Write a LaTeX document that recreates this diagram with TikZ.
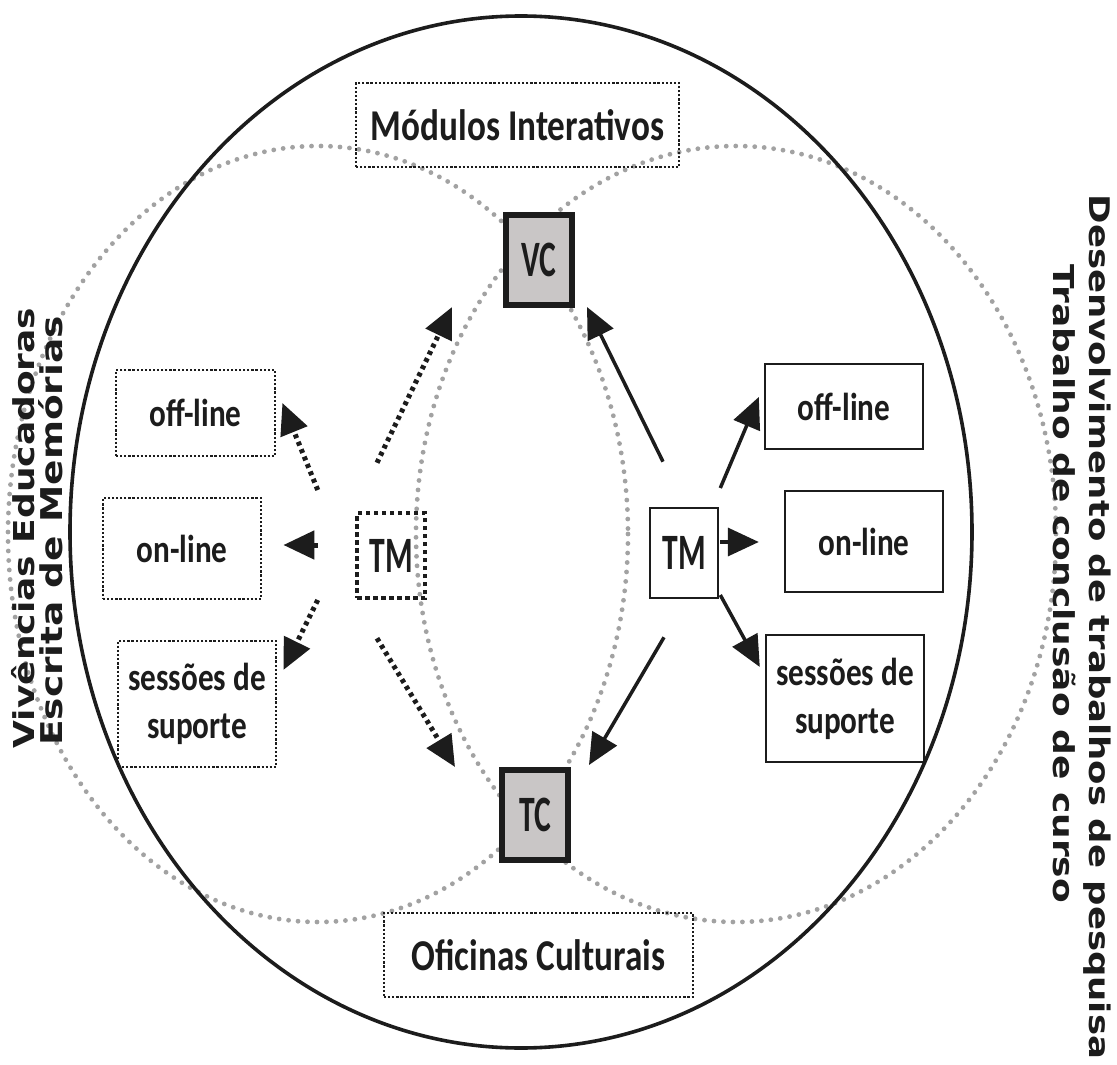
\documentclass[tikz,border=0pt]{standalone}
\usepackage{fontspec}
\usepackage{graphicx}
\usetikzlibrary{arrows.meta,calc}
\newfontfamily\boxfont[FakeStretch=0.8]{Carlito}
\newfontfamily\tagfont[FakeStretch=0.62]{Carlito}
\newfontfamily\sidefont{DejaVu Sans}
\newcommand{\flatten}[1]{\scalebox{1}[0.8]{#1}}
\definecolor{ink}{HTML}{1C1C1C}
\definecolor{dotgray}{HTML}{A2A2A2}
\definecolor{tagfill}{HTML}{C9C6C6}
\begin{document}
\begin{tikzpicture}[x=1pt,y=-1pt,
  every node/.style={inner sep=0pt, text=ink},
  lbl/.style={font=\boxfont\bfseries\fontsize{39}{48}\selectfont, align=center},
  bigl/.style={font=\boxfont\bfseries\fontsize{44}{48}\selectfont},
  solidbox/.style={draw=ink, line width=2.4pt, lbl},
  dotbox/.style={draw=ink, line width=2.8pt, dash pattern=on 2.2pt off 1.9pt, lbl},
  tmdot/.style={draw=ink, line width=4.5pt, dash pattern=on 4.5pt off 3.5pt},
  tagfnt/.style={font=\tagfont\bfseries\fontsize{51}{51}\selectfont},
  tagbox/.style={draw=ink, line width=6pt, fill=tagfill, tagfnt, minimum width=66pt, minimum height=90pt},
  sidetxt/.style={font=\sidefont\bfseries\fontsize{36}{40}\selectfont},
  greydots/.style={draw=dotgray, line width=4.8pt, dash pattern=on 0pt off 9.5pt, line cap=round},
  tip/.style={-{Triangle[length=31pt,width=28pt]}},
  solidarrow/.style={draw=ink, line width=3.5pt, tip},
  dotarrow/.style={draw=ink, line width=5pt, dash pattern=on 4pt off 4pt, tip}
]
\useasboundingbox (0,0) rectangle (1117,1065);
\fill[white] (0,0) rectangle (1117,1065);

% grey dotted ellipses
\draw[greydots] (318,534) ellipse [x radius=310, y radius=388];
\draw[greydots] (736,534) ellipse [x radius=320, y radius=388];

% big ellipse
\draw[ink, line width=3.6pt] (521,532) ellipse [x radius=451, y radius=516];

% top / bottom boxes
\node[dotbox, bigl, minimum width=323pt, minimum height=84pt] (mod) at (517.5,125) {Módulos Interativos};
\node[dotbox, bigl, minimum width=309pt, minimum height=84pt] (ofi) at (538.5,955) {Oficinas Culturais};

% VC / TC
\node[tagbox] (vc) at (539,260) {VC};
\node[tagbox] (tc) at (535,815) {TC};

% TM nodes
\node[tmdot, tagfnt, minimum width=68pt, minimum height=85pt] (tmL) at (391,555.5) {TM};
\node[draw=ink, line width=2.6pt, tagfnt, minimum width=68pt, minimum height=90pt] (tmR) at (684,553) {TM};

% left boxes (dotted)
\node[dotbox, minimum width=159pt, minimum height=86pt] (offL) at (195.5,413) {off-line};
\node[dotbox, minimum width=158pt, minimum height=101pt] (onL) at (182,548.5) {on-line};
\node[dotbox, minimum width=158pt, minimum height=126pt] (sesL) at (197,704) {sessões de\\suporte};

% right boxes (solid)
\node[solidbox, minimum width=158pt, minimum height=85pt] (offR) at (844,406.5) {off-line};
\node[solidbox, minimum width=158pt, minimum height=101pt] (onR) at (864,541.5) {on-line};
\node[solidbox, minimum width=158pt, minimum height=127pt] (sesR) at (845,698.5) {sessões de\\suporte};

% side texts
\node[sidetxt, rotate=90] (vive) at (23,528) {\flatten{Vivências Educadoras}};
\node[sidetxt, rotate=90, font=\sidefont\bfseries\fontsize{37.5}{40}\selectfont] (escr) at (51,531) {\flatten{Escrita de Memórias}};
\node[sidetxt, rotate=-90, font=\sidefont\bfseries\fontsize{35.5}{40}\selectfont] (dese) at (1097,627) {\flatten{Desenvolvimento de trabalhos de pesquisa}};
\node[sidetxt, rotate=-90] (trab) at (1064,584) {\flatten{Trabalho de conclusão de curso}};

% left dotted arrows
\draw[dotarrow] ($(tmL.north)+(-14,-48)$) -- ($(vc.south west)+(-51,-1)$);
\draw[dotarrow] ($(tmL.west)+(-37,-65.5)$) -- ($(offL.east)+(6,-10)$);
\draw[dotarrow] ($(tmL.west)+(-37,-10.5)$) -- ($(onL.east)+(21,-3.5)$);
\draw[dotarrow] ($(tmL.west)+(-37,44.5)$) -- ($(sesL.east)+(6,-34)$);
\draw[dotarrow] ($(tmL.south)+(-14,38)$) -- ($(tc.north west)+(-44,0)$);

% right solid arrows
\draw[solidarrow] ($(tmR.north)+(-21,-45)$) -- ($(vc.south east)+(12,-1)$);
\draw[solidarrow] ($(tmR.east)+(1,-65)$) -- ($(offR.west)+(-5,-9.5)$);
\draw[solidarrow] ($(tmR.east)+(1,-11)$) -- ($(onR.west)+(-25,0.5)$);
\draw[solidarrow] ($(tmR.east)+(1,42)$) -- ($(sesR.west)+(-5,-31.5)$);
\draw[solidarrow] ($(tmR.south)+(-20,38)$) -- ($(tc.north east)+(18,-2)$);
\end{tikzpicture}
\end{document}
